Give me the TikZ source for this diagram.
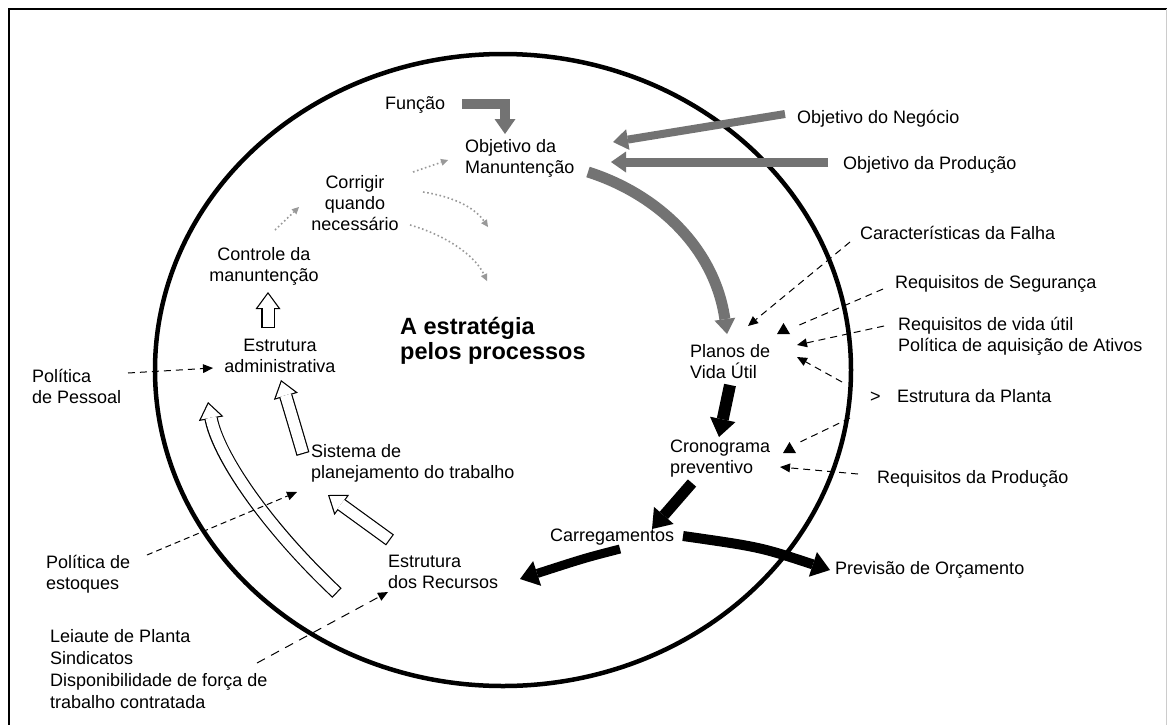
\documentclass[tikz,border=0pt]{standalone}
\usepackage{fontspec}
\setmainfont{Liberation Sans}
\usetikzlibrary{arrows.meta}
\newcommand\lblf{\fontsize{18}{21}\selectfont}
\newcommand\bigf{\fontsize{23.5}{25}\selectfont\bfseries}
\definecolor{arrgray}{gray}{0.45}
\definecolor{dotgray}{gray}{0.6}
\begin{document}
\begin{tikzpicture}[x=1pt,y=-1pt,
  lbl/.style={font=\lblf, inner sep=0pt, anchor=north west, align=left, execute at begin node=\strut},
  lblc/.style={lbl, anchor=north, align=center},
  grayarr/.style={draw=arrgray, line width=#1, line join=miter, -{Triangle[length=15pt,width=21pt,line width=0pt]}},
  grayarr/.default=10pt,
  blackarr/.style={draw=black, line width=#1, -{Triangle[length=18pt,width=26pt,line width=0pt]}},
  blackarr/.default=11pt,
  hollowarr/.style={draw=white, line width=11pt, shorten >=2.03pt, shorten <=1.2pt,
     -{Triangle[length=13.8pt,width=20.2pt,line width=0pt]},
     preaction={draw=black, line width=13.4pt, shorten >=0pt, shorten <=0pt,
       -{Triangle[length=17pt,width=25pt,line width=0pt]}}},
  dasharr/.style={draw=black, line width=1pt, dash pattern=on 7pt off 5pt, -{Triangle[length=10pt,width=9pt,line width=0pt]}},
  dashline/.style={draw=black, line width=1pt, dash pattern=on 7pt off 5pt},
  dotarr/.style={draw=dotgray, line width=1.6pt, dash pattern=on 1.6pt off 2.6pt, -{Triangle[length=7pt,width=7pt,line width=0pt]}}
]
\useasboundingbox (0,0) rectangle (1168,724);
\fill[white] (0,0) rectangle (1168,724);
% frame
\draw[line width=2pt] (8.5,730) -- (8.5,9) -- (1166.5,9);
\draw[gray!40, line width=0.8pt] (1166.5,9) -- (1166.5,730);
% big ellipse
\draw[line width=4.5pt] (503,370) ellipse [x radius=348pt, y radius=316pt];

% labels
\node[lbl] (funcao) at (385,95) {Função};
\node[lbl] (objman) at (465,139) {Objetivo da\\Manuntenção};
\node[lbl] (objneg) at (797,109) {Objetivo do Negócio};
\node[lbl] (objprod) at (843,155) {Objetivo da Produção};
\node[lblc] (corrigir) at (355,175) {Corrigir\\quando\\necessário};
\node[lblc] (controle) at (264,247) {Controle da\\manuntenção};
\node[lbl] (caract) at (860,225) {Características da Falha};
\node[lbl] (seguranca) at (895,274) {Requisitos de Segurança};
\node[lbl] (vidautil) at (898,317) {Requisitos de vida útil\\Política de aquisição de Ativos};
\node[lbl, font=\bigf, execute at begin node=\strut] (estrategia) at (400,317) {A estratégia\\pelos processos};
\node[lblc] (estadm) at (280,339) {Estrutura\\administrativa};
\node[lbl] (planos) at (690,344) {Planos de\\Vida Útil};
\node[lbl] (pessoal) at (32,369) {Política\\de Pessoal};
\node[lbl] (gt) at (870,388) {>};
\node[lbl] (planta) at (897,388) {Estrutura da Planta};
\node[lbl] (crono) at (670,440) {Cronograma\\preventivo};
\node[lbl] (sistema) at (311,444) {Sistema de\\planejamento do trabalho};
\node[lbl] (reqprod) at (877,469) {Requisitos da Produção};
\node[lbl] (carreg) at (550,527) {Carregamentos};
\node[lbl] (estrec) at (388,555) {Estrutura\\dos Recursos};
\node[lbl] (estoques) at (46,555) {Política de\\estoques};
\node[lbl] (previsao) at (835,560) {Previsão de Orçamento};
\node[lbl, font=\fontsize{18}{22}\selectfont] (leiaute) at (50,629) {Leiaute de Planta\\Sindicatos\\Disponibilidade de força de\\trabalho contratada};

% coordinates for connector ends
\coordinate (g1s) at (462,104); \coordinate (g1c) at (505,104); \coordinate (g1e) at (505,134);
\coordinate (g2s) at (785,114); \coordinate (g2e) at (613,142);
\coordinate (g3s) at (828,162); \coordinate (g3e) at (611,162);
\coordinate (g4s) at (588,172); \coordinate (g4e) at (727,334);
\coordinate (d1s) at (275,230); \coordinate (d1e) at (299,207);
\coordinate (d2s) at (413,172); \coordinate (d2e) at (448,160);
\coordinate (d3s) at (423,192); \coordinate (d3e) at (488,227);
\coordinate (d4s) at (410,225); \coordinate (d4e) at (487,281);
\coordinate (b1s) at (730,385); \coordinate (b1e) at (719,437);
\coordinate (b2s) at (692,483); \coordinate (b2e) at (652,529);
\coordinate (b3s) at (620,549); \coordinate (b3e) at (520,579);
\coordinate (b4s) at (683,536); \coordinate (b4e) at (830,570);
\coordinate (h1s) at (268,328); \coordinate (h1e) at (268,292);
\coordinate (h2s) at (303,454); \coordinate (h2e) at (281,380);
\coordinate (h3s) at (337,593); \coordinate (h3e) at (208,402);
\coordinate (h4s) at (390,540); \coordinate (h4e) at (328,495);
\coordinate (k1s) at (850,242); \coordinate (k1e) at (748,326);
\coordinate (k2s) at (883,289); \coordinate (k2e) at (797,326);
\coordinate (k3s) at (884,326); \coordinate (k3e) at (797,345);
\coordinate (k4s) at (842,382); \coordinate (k4e) at (797,357);
\coordinate (k5s) at (850,418); \coordinate (k5e) at (798,443);
\coordinate (k6s) at (858,474); \coordinate (k6e) at (780,467);
\coordinate (k7s) at (128,373); \coordinate (k7e) at (213,368);
\coordinate (k8s) at (147,555); \coordinate (k8e) at (297,492);
\coordinate (k9s) at (257,663); \coordinate (k9e) at (388,592);

% gray arrows
\draw[grayarr=10pt] (g1s) -- (g1c) -- (g1e);
\draw[grayarr=8pt] (g2s) -- (g2e);
\draw[grayarr=9pt] (g3s) -- (g3e);
\draw[grayarr=11pt] (g4s) .. controls (660,195) and (715,250) .. (g4e);

% dotted gray arrows
\draw[dotarr] (d1s) -- (d1e);
\draw[dotarr] (d2s) -- (d2e);
\draw[dotarr] (d3s) .. controls (455,197) and (475,208) .. (d3e);
\draw[dotarr] (d4s) .. controls (445,235) and (475,255) .. (d4e);

% black arrows
\draw[blackarr=12pt] (b1s) -- (b1e);
\draw[blackarr=11pt] (b2s) -- (b2e);
\draw[blackarr=9pt] (b3s) .. controls (585,558) .. (b3e);
\draw[blackarr=10pt] (b4s) .. controls (760,547) .. (b4e);

% hollow arrows
\draw[hollowarr] (h1s) -- (h1e);
\draw[hollowarr] (h2s) .. controls (293,420) .. (h2e);
\draw[hollowarr] (h3s) .. controls (265,525) and (218,455) .. (h3e);
\draw[hollowarr] (h4s) -- (h4e);

% dashed arrows
\draw[dasharr] (k1s) -- (k1e);
\draw[dashline] (k2s) -- (k2e);
\fill (777,334) -- ++(13,0) -- ++(-6.5,-11) -- cycle;
\draw[dasharr] (k3s) -- (k3e);
\draw[dasharr] (k4s) -- (k4e);
\draw[dashline] (k5s) -- (k5e);
\fill (783,453) -- ++(13,0) -- ++(-6.5,-11) -- cycle;
\draw[dasharr] (k6s) -- (k6e);
\draw[dasharr] (k7s) -- (k7e);
\draw[dasharr, dash pattern=on 6pt off 4pt] (k8s) -- (k8e);
\draw[dasharr, dash pattern=on 9pt off 7pt] (k9s) -- (k9e);
\end{tikzpicture}
\end{document}
